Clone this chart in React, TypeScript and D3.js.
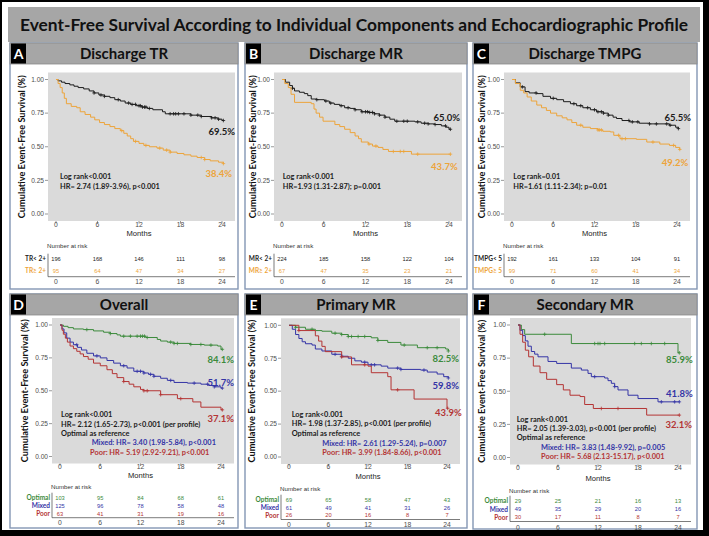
import React from 'react';
import * as d3 from 'd3';

type Pt = [number, number];

const monthTicks = [0, 6, 12, 18, 24];
const survTicks = [0, 0.25, 0.5, 0.75, 1];

// ---------- Panel A : Discharge TR ----------
const trLowSurv: Pt[] = [[0,1],[0.3,0.99],[0.8,0.98],[1.3,0.97],[2,0.96],[2.6,0.95],[3.2,0.94],[4,0.93],[4.8,0.915],[5.5,0.9],[6.2,0.885],[7,0.875],[7.8,0.865],[8.5,0.85],[9.3,0.84],[10,0.825],[10.8,0.815],[11.6,0.805],[12.4,0.795],[13.2,0.785],[14,0.775],[15.4,0.76],[15.8,0.745],[19.5,0.735],[21,0.725],[22.5,0.715],[23.4,0.705],[24,0.695],[24.2,0.695]];
const trLowCensor = [5.5,6.5,7,9,10.5,11,11.5,12,12.2,12.5,12.8,13,13.5,16.5,17,17.3,17.7,18.5,19.5,20.5,21,22.5,23,23.5,24.2];
const trHighSurv: Pt[] = [[0,1],[0.3,0.97],[0.6,0.94],[0.9,0.9],[1.2,0.86],[1.5,0.82],[2.2,0.8],[3,0.79],[3.5,0.76],[4.2,0.74],[5,0.72],[5.6,0.7],[6.3,0.68],[7,0.665],[7.8,0.65],[8.5,0.635],[9.3,0.62],[9.8,0.6],[10.3,0.58],[10.8,0.56],[11.2,0.54],[12,0.525],[12.7,0.51],[13.5,0.5],[14.6,0.49],[15.5,0.475],[16.5,0.46],[17.5,0.45],[18.5,0.44],[19.5,0.43],[20.4,0.42],[21.5,0.405],[22.3,0.395],[23.5,0.385],[24.2,0.375]];
const trHighCensor = [9.5,11.5,13,15,16,16.5,21,21.5,24.2];
const trLowRisk = [196, 168, 146, 111, 98];
const trHighRisk = [95, 64, 47, 34, 27];

// ---------- Panel B : Discharge MR ----------
const mrLowSurv: Pt[] = [[0,1],[0.5,0.98],[1.1,0.955],[1.5,0.935],[1.8,0.915],[2.5,0.905],[3.2,0.895],[3.7,0.88],[4.2,0.855],[5,0.85],[6.1,0.84],[6.8,0.825],[7.5,0.815],[8.3,0.805],[9,0.79],[9.8,0.785],[10.5,0.775],[11.4,0.76],[12.5,0.755],[13.3,0.745],[14,0.735],[14.8,0.72],[15.5,0.705],[16.2,0.69],[19.1,0.685],[20,0.675],[21,0.67],[22,0.665],[22.9,0.655],[23.6,0.645],[24,0.63],[24.2,0.63]];
const mrLowCensor = [1.5,5,6.3,7,8.5,9.5,10.5,11.5,12,12.3,12.6,13,13.3,14,14.8,16.5,17.5,18,19.5,20.5,21,22,23.5,24.2];
const mrHighSurv: Pt[] = [[0,1],[0.4,0.97],[0.9,0.94],[1.3,0.89],[1.8,0.83],[4.2,0.82],[4.6,0.78],[4.9,0.75],[5.4,0.72],[5.9,0.69],[7.6,0.665],[8.3,0.65],[9,0.63],[9.8,0.605],[10.5,0.58],[11,0.56],[11.4,0.535],[12.4,0.52],[13,0.505],[13.8,0.495],[14.5,0.48],[15.3,0.465],[18.6,0.445],[24.2,0.445]];
const mrHighCensor = [12.5,13.5,16,17,17.5,19.5,24.2];
const mrLowRisk = [224, 185, 158, 122, 104];
const mrHighRisk = [67, 47, 35, 23, 21];

// ---------- Panel C : Discharge TMPG ----------
const tmpgLowSurv: Pt[] = [[0,1],[0.5,0.975],[1.2,0.945],[1.9,0.91],[2.5,0.9],[3.6,0.895],[4.5,0.875],[5.6,0.86],[6.5,0.85],[7.5,0.835],[8.5,0.82],[9.4,0.805],[10.3,0.79],[11.4,0.775],[12.3,0.76],[13.3,0.75],[14,0.735],[14.7,0.72],[15.2,0.71],[16,0.695],[17.1,0.685],[18.5,0.675],[20,0.67],[22.9,0.66],[23.8,0.645],[24.2,0.635]];
const tmpgLowCensor = [1.5,3.5,6,9,10,11,12,12.5,13,13.3,14,17,17.5,18.3,20,21,22.5,23,24.2];
const tmpgHighSurv: Pt[] = [[0,1],[0.5,0.97],[1.2,0.92],[1.7,0.9],[2.2,0.87],[2.8,0.84],[3.6,0.81],[4.3,0.79],[5,0.77],[5.6,0.75],[6.5,0.73],[7.3,0.715],[8,0.7],[8.7,0.68],[9.4,0.66],[10.3,0.645],[11.4,0.635],[12.5,0.625],[13.2,0.615],[14.3,0.61],[14.8,0.585],[15.7,0.56],[18.1,0.555],[19.6,0.535],[21.5,0.52],[22.9,0.51],[23.8,0.495],[24.4,0.48]];
const tmpgHighCensor = [10,12.5,12.7,13,15.5,16,16.5,20.5,23.5,24.4];
const tmpgLowRisk = [192, 161, 133, 104, 91];
const tmpgHighRisk = [99, 71, 60, 41, 34];

// ---------- Panel D : Overall ----------
const allOptSurv: Pt[] = [[0,1],[0.5,0.99],[1.2,0.98],[2,0.97],[3.5,0.965],[5,0.955],[6.5,0.945],[7.5,0.935],[8.5,0.925],[9,0.915],[12.8,0.905],[14.5,0.89],[15,0.878],[16,0.87],[17,0.86],[19.5,0.852],[21.5,0.847],[23.5,0.84],[24,0.815],[24.2,0.815]];
const allOptCensor = [4,7.5,9.5,10.5,11.5,12,12.3,12.6,13,16.5,17,17.5,19.5,21,22.5,24.2];
const allMixSurv: Pt[] = [[0,1],[0.3,0.97],[0.6,0.94],[1,0.9],[1.5,0.87],[2,0.85],[2.6,0.83],[3.2,0.81],[4,0.785],[5,0.765],[6,0.75],[7,0.73],[8,0.71],[9,0.69],[10,0.673],[11,0.648],[12.5,0.635],[13.2,0.625],[14,0.61],[15,0.595],[16,0.579],[17,0.563],[19,0.558],[21,0.55],[22.2,0.54],[23,0.53],[24,0.52],[24.2,0.52]];
const allMixCensor = [2.5,5.5,9.5,11.5,12,12.5,13.5,14,16.5,20,22,23,24.2];
const allPoorSurv: Pt[] = [[0,1],[0.3,0.96],[0.5,0.93],[0.8,0.9],[1.1,0.87],[1.5,0.84],[2,0.82],[2.5,0.8],[3,0.78],[3.5,0.76],[4.2,0.74],[5,0.71],[6,0.69],[7,0.66],[7.8,0.63],[8.5,0.6],[9.5,0.57],[10.3,0.55],[11,0.53],[12,0.51],[12.5,0.5],[15,0.47],[17.5,0.44],[19.8,0.415],[21,0.375],[24,0.355],[24.2,0.355]];
const allPoorCensor = [9.5,12.5,13,15,18,24.2];
const allOptRisk = [103, 95, 84, 68, 61];
const allMixRisk = [125, 96, 78, 58, 48];
const allPoorRisk = [63, 41, 31, 19, 16];

// ---------- Panel E : Primary MR ----------
const priOptSurv: Pt[] = [[0,1],[1,0.985],[2.5,0.97],[4,0.96],[5,0.955],[6.5,0.94],[8,0.93],[9,0.915],[12.5,0.905],[13.5,0.885],[15,0.87],[17,0.85],[19.5,0.83],[23.8,0.82],[24.2,0.805]];
const priOptCensor = [1,3.5,7,8,9,9.5,10.5,11.5,13.5,17.5,21,22.5,24.2];
const priMixSurv: Pt[] = [[0,1],[0.5,0.97],[1,0.93],[1.5,0.9],[2,0.875],[2.5,0.86],[3.5,0.85],[4,0.82],[5,0.805],[6.5,0.78],[8,0.765],[9,0.75],[10,0.73],[11,0.72],[12,0.7],[14,0.69],[15,0.675],[17,0.665],[20,0.66],[21,0.645],[22.5,0.63],[23.5,0.61],[24.2,0.6]];
const priMixCensor = [7,8,11.5,12.5,13,16.5,17,20.5,24.2];
const priPoorSurv: Pt[] = [[0,1],[1.5,0.96],[4,0.92],[4.5,0.88],[5,0.84],[5.5,0.8],[8,0.76],[9.5,0.7],[12,0.69],[12.5,0.64],[15,0.61],[15.5,0.51],[19,0.44],[24,0.37],[24.1,0.37]];
const priPoorCensor = [1.5,8,11.5,16.5,24.1];
const priOptRisk = [69, 65, 58, 47, 43];
const priMixRisk = [61, 49, 41, 31, 26];
const priPoorRisk = [26, 20, 16, 8, 7];

// ---------- Panel F : Secondary MR ----------
const secOptSurv: Pt[] = [[0,1],[0.5,0.965],[1,0.93],[8,0.86],[24,0.79],[24.2,0.79]];
const secOptCensor = [4,11.5,12,12.3,13,17.5,18.5,20,22,24.2];
const secMixSurv: Pt[] = [[0,1],[0.3,0.96],[0.7,0.92],[1.1,0.88],[1.5,0.84],[2,0.8],[2.5,0.78],[3,0.76],[4.5,0.725],[5.8,0.71],[8,0.675],[9.5,0.66],[10.5,0.635],[11,0.61],[13,0.6],[13.5,0.58],[14,0.56],[14.5,0.535],[15,0.51],[16.5,0.47],[18,0.445],[21,0.42],[24.2,0.42]];
const secMixCensor = [11.5,14.5,21.5,23.5,24.2];
const secPoorSurv: Pt[] = [[0,1],[0.3,0.93],[0.7,0.87],[1.1,0.81],[1.6,0.76],[2.3,0.69],[3.3,0.64],[4.3,0.59],[5.8,0.55],[6.8,0.51],[7.8,0.47],[9.3,0.46],[10,0.4],[11.3,0.37],[19.3,0.32],[24.2,0.32]];
const secPoorCensor = [12.5,15,24.2];
const secOptRisk = [29, 25, 21, 16, 13];
const secMixRisk = [49, 35, 29, 20, 16];
const secPoorRisk = [30, 17, 11, 8, 7];

// ---------- styling ----------
const C_BLACK = '#1c1c1c';
const C_ORANGE = '#eda43a';
const C_GREEN = '#3b8a3b';
const C_BLUE = '#3434a6';
const C_RED = '#b43434';
const PLOT_BG = '#dadada';
const HEAD_BG = '#a6a6a6';
const BORDER = '#8396b4';
const CAL = 'Lato, "Open Sans", sans-serif';
const ARIAL = '"Liberation Sans", Arial, sans-serif';

type Curve = { surv: Pt[]; censor: number[]; color: string; risk: number[]; label: string };
type Note = { text: string; x: number; y: number; color: string; anchor?: string; size?: number };
type Layout = {
  bx0: number; bx1: number; by0: number; by1: number; hy1: number;
  x0: number; x24: number; y1: number; y0: number; titleX: number;
  narY: number; rows: number[]; axisLine: number; axisLabel: number; monthsY: number; xLabY: number;
};
type PanelCfg = { letter: string; title: string; layout: Layout; curves: Curve[]; notes: Note[] };

function survAt(s: Pt[], t: number) {
  let v = s[0][1];
  for (const p of s) { if (p[0] <= t) v = p[1]; }
  return v;
}

const top = { by0: 43, by1: 289, hy1: 64, y1: 79.5, y0: 214, narY: 245.7, rows: [258.7, 270.7], axisLine: 276.7, axisLabel: 282, monthsY: 233, xLabY: 225 };
const PCT = 9.5;

const panels: PanelCfg[] = [
  {
    letter: 'A', title: 'Discharge TR',
    layout: { ...top, bx0: 10, bx1: 238, x0: 56, x24: 222, titleX: 22 },
    curves: [
      { surv: trLowSurv, censor: trLowCensor, color: C_BLACK, risk: trLowRisk, label: 'TR< 2+' },
      { surv: trHighSurv, censor: trHighCensor, color: C_ORANGE, risk: trHighRisk, label: 'TR\u2265 2+' },
    ],
    notes: [
      { text: 'Log rank<0.001', x: 60, y: 176.7, color: C_BLACK },
      { text: 'HR= 2.74 (1.89-3.96), p<0.001', x: 60, y: 186, color: C_BLACK },
      { text: '69.5%', x: 235, y: 131.7, color: C_BLACK, anchor: 'end', size: PCT },
      { text: '38.4%', x: 232, y: 173.3, color: C_ORANGE, anchor: 'end', size: PCT },
    ],
  },
  {
    letter: 'B', title: 'Discharge MR',
    layout: { ...top, bx0: 245, bx1: 467, x0: 282, x24: 449, titleX: 253 },
    curves: [
      { surv: mrLowSurv, censor: mrLowCensor, color: C_BLACK, risk: mrLowRisk, label: 'MR< 2+' },
      { surv: mrHighSurv, censor: mrHighCensor, color: C_ORANGE, risk: mrHighRisk, label: 'MR\u2265 2+' },
    ],
    notes: [
      { text: 'Log rank<0.001', x: 282.7, y: 176.7, color: C_BLACK },
      { text: 'HR=1.93 (1.31-2.87); p=0.001', x: 282.7, y: 186, color: C_BLACK },
      { text: '65.0%', x: 460, y: 117.3, color: C_BLACK, anchor: 'end', size: PCT },
      { text: '43.7%', x: 457.7, y: 166.7, color: C_ORANGE, anchor: 'end', size: PCT },
    ],
  },
  {
    letter: 'C', title: 'Discharge TMPG',
    layout: { ...top, bx0: 473, bx1: 697, x0: 512, x24: 677, titleX: 482 },
    curves: [
      { surv: tmpgLowSurv, censor: tmpgLowCensor, color: C_BLACK, risk: tmpgLowRisk, label: 'TMPG< 5' },
      { surv: tmpgHighSurv, censor: tmpgHighCensor, color: C_ORANGE, risk: tmpgHighRisk, label: 'TMPG\u2265 5' },
    ],
    notes: [
      { text: 'Log rank=0.01', x: 513.3, y: 176.7, color: C_BLACK },
      { text: 'HR=1.61 (1.11-2.34); p=0.01', x: 513.3, y: 186, color: C_BLACK },
      { text: '65.5%', x: 691, y: 117.3, color: C_BLACK, anchor: 'end', size: PCT },
      { text: '49.2%', x: 688.3, y: 162.3, color: C_ORANGE, anchor: 'end', size: PCT },
    ],
  },
  {
    letter: 'D', title: 'Overall',
    layout: { bx0: 10, bx1: 238, by0: 294, by1: 528, hy1: 315, x0: 60, x24: 221, y1: 325, y0: 456.5, titleX: 25,
      narY: 487, rows: [497.7, 506, 513.7], axisLine: 517.7, axisLabel: 522.7, monthsY: 475.7, xLabY: 466.7 },
    curves: [
      { surv: allOptSurv, censor: allOptCensor, color: C_GREEN, risk: allOptRisk, label: 'Optimal' },
      { surv: allMixSurv, censor: allMixCensor, color: C_BLUE, risk: allMixRisk, label: 'Mixed' },
      { surv: allPoorSurv, censor: allPoorCensor, color: C_RED, risk: allPoorRisk, label: 'Poor' },
    ],
    notes: [
      { text: 'Log rank<0.001', x: 61, y: 414, color: C_BLACK },
      { text: 'HR= 2.12 (1.65-2.73), p<0.001 (per profile)', x: 61, y: 424, color: C_BLACK },
      { text: 'Optimal as reference', x: 61, y: 433.3, color: C_BLACK },
      { text: 'Mixed: HR= 3.40 (1.98-5.84), p<0.001', x: 91.7, y: 442.7, color: C_BLUE },
      { text: 'Poor: HR= 5.19 (2.92-9.21), p<0.001', x: 90, y: 452, color: C_RED },
      { text: '84.1%', x: 234, y: 359.3, color: C_GREEN, anchor: 'end', size: PCT },
      { text: '51.7%', x: 234, y: 382.3, color: C_BLUE, anchor: 'end', size: PCT },
      { text: '37.1%', x: 234, y: 418.3, color: C_RED, anchor: 'end', size: PCT },
    ],
  },
  {
    letter: 'E', title: 'Primary MR',
    layout: { bx0: 245, bx1: 467, by0: 294, by1: 528, hy1: 315, x0: 289, x24: 447, y1: 325.3, y0: 457, titleX: 252,
      narY: 489, rows: [499.7, 507.7, 515.3], axisLine: 519.5, axisLabel: 524.3, monthsY: 476.7, xLabY: 467 },
    curves: [
      { surv: priOptSurv, censor: priOptCensor, color: C_GREEN, risk: priOptRisk, label: 'Optimal' },
      { surv: priMixSurv, censor: priMixCensor, color: C_BLUE, risk: priMixRisk, label: 'Mixed' },
      { surv: priPoorSurv, censor: priPoorCensor, color: C_RED, risk: priPoorRisk, label: 'Poor' },
    ],
    notes: [
      { text: 'Log rank<0.001', x: 291.7, y: 414.3, color: C_BLACK },
      { text: 'HR= 1.98 (1.37-2.85), p<0.001 (per profile)', x: 291.7, y: 423.7, color: C_BLACK },
      { text: 'Optimal as reference', x: 291.7, y: 433.3, color: C_BLACK },
      { text: 'Mixed: HR= 2.61  (1.29-5.24), p=0.007', x: 322.3, y: 443, color: C_BLUE },
      { text: 'Poor: HR= 3.99 (1.84-8.66), p<0.001', x: 322.3, y: 452.3, color: C_RED },
      { text: '82.5%', x: 459, y: 358.3, color: C_GREEN, anchor: 'end', size: PCT },
      { text: '59.8%', x: 459, y: 385.7, color: C_BLUE, anchor: 'end', size: PCT },
      { text: '43.9%', x: 461.7, y: 413, color: C_RED, anchor: 'end', size: PCT },
    ],
  },
  {
    letter: 'F', title: 'Secondary MR',
    layout: { bx0: 473, bx1: 697, by0: 294, by1: 529, hy1: 315, x0: 518, x24: 678, y1: 325, y0: 457.5, titleX: 482,
      narY: 490.7, rows: [500.7, 509.3, 517.3], axisLine: 521.5, axisLabel: 527.3, monthsY: 478, xLabY: 468 },
    curves: [
      { surv: secOptSurv, censor: secOptCensor, color: C_GREEN, risk: secOptRisk, label: 'Optimal' },
      { surv: secMixSurv, censor: secMixCensor, color: C_BLUE, risk: secMixRisk, label: 'Mixed' },
      { surv: secPoorSurv, censor: secPoorCensor, color: C_RED, risk: secPoorRisk, label: 'Poor' },
    ],
    notes: [
      { text: 'Log rank<0.001', x: 516.7, y: 419, color: C_BLACK },
      { text: 'HR= 2.05 (1.39-3.03), p<0.001 (per profile)', x: 516.7, y: 428.3, color: C_BLACK },
      { text: 'Optimal as reference', x: 516.7, y: 437.3, color: C_BLACK },
      { text: 'Mixed: HR= 3.83 (1.48-9.92), p=0.005', x: 541, y: 447.3, color: C_BLUE },
      { text: 'Poor: HR= 5.68 (2.13-15.17), p<0.001', x: 541, y: 456.3, color: C_RED },
      { text: '85.9%', x: 692.7, y: 359.3, color: C_GREEN, anchor: 'end', size: PCT },
      { text: '41.8%', x: 692.7, y: 394, color: C_BLUE, anchor: 'end', size: PCT },
      { text: '32.1%', x: 692, y: 425, color: C_RED, anchor: 'end', size: PCT },
    ],
  },
];

function Panel({ cfg }: { cfg: PanelCfg }) {
  const L = cfg.layout;
  const x = d3.scaleLinear().domain([0, 24]).range([L.x0, L.x24]);
  const y = d3.scaleLinear().domain([0, 1]).range([L.y0, L.y1]);
  const line = d3.line<Pt>().x(d => x(d[0])).y(d => y(d[1])).curve(d3.curveStepAfter);
  const gx0 = L.x0 - 8;
  const gx1 = Math.min(L.x24 + 13, L.bx1 - 3);
  const gy0 = y(1) - 7;
  const gy1 = y(0) + 7;
  const cy = (gy0 + gy1) / 2;
  return (
    <g>
      <rect x={L.bx0} y={L.by0} width={L.bx1 - L.bx0} height={L.by1 - L.by0} fill="#fff" stroke={BORDER} strokeWidth={1.4} />
      <rect x={L.bx0} y={L.by0} width={L.bx1 - L.bx0} height={L.hy1 - L.by0} fill={HEAD_BG} stroke="#8a8a8a" strokeWidth={0.8} />
      <rect x={L.bx0 + 1} y={L.by0 + 0.5} width={15} height={L.hy1 - L.by0 - 1} fill="#000" />
      <text x={L.bx0 + 8.5} y={(L.by0 + L.hy1) / 2 + 5} textAnchor="middle" fill="#fff" fontFamily={CAL} fontWeight={700} fontSize={14}>{cfg.letter}</text>
      <text x={(L.bx0 + L.bx1) / 2} y={(L.by0 + L.hy1) / 2 + 5.2} textAnchor="middle" fill="#111" fontFamily={CAL} fontWeight={700} fontSize={15}>{cfg.title}</text>

      <rect x={gx0} y={gy0} width={gx1 - gx0} height={gy1 - gy0} fill={PLOT_BG} />
      {survTicks.map(t => (
        <g key={'y' + t}>
          <line x1={gx0 - 3} x2={gx0} y1={y(t)} y2={y(t)} stroke="#555" strokeWidth={0.6} />
          <text x={gx0 - 4} y={y(t) + 2.3} textAnchor="end" fontFamily={ARIAL} fontSize={6.6} fill="#4d4d4d">{t.toFixed(2)}</text>
        </g>
      ))}
      {monthTicks.map(t => (
        <g key={'x' + t}>
          <line x1={x(t)} x2={x(t)} y1={gy1} y2={gy1 + 2.5} stroke="#555" strokeWidth={0.6} />
          <text x={x(t)} y={L.xLabY + 2.4} textAnchor="middle" fontFamily={ARIAL} fontSize={6.8} fill="#4d4d4d">{t}</text>
        </g>
      ))}
      <text x={(x(0) + x(24)) / 2} y={L.monthsY + 2.7} textAnchor="middle" fontFamily={ARIAL} fontSize={7.6} fill="#222">Months</text>
      <text transform={`translate(${L.titleX},${cy}) rotate(-90)`} textAnchor="middle" dy={3.2} fontFamily={CAL} fontWeight={700} fontSize={9.2} fill="#111">Cumulative Event-Free Survival (%)</text>

      {cfg.curves.map((c, i) => (
        <g key={'c' + i}>
          <path d={line(c.surv) || ''} fill="none" stroke={c.color} strokeWidth={1} />
          {c.censor.map((t, j) => {
            const px = x(t), py = y(survAt(c.surv, t));
            return <path key={j} d={`M${px - 1.8},${py}H${px + 1.8}M${px},${py - 1.8}V${py + 1.8}`} stroke={c.color} strokeWidth={0.8} />;
          })}
        </g>
      ))}

      {cfg.notes.map((n, i) => (
        <text key={'n' + i} x={n.x} y={n.y + (n.size ? 3.3 : 2.6)} textAnchor={n.anchor || 'start'} fontFamily={CAL} fontWeight={700} fontSize={n.size || 7.4} fill={n.color}>{n.text}</text>
      ))}

      <text x={gx0 - 1} y={L.narY + 2.2} fontFamily={ARIAL} fontSize={6.2} fill="#333">Number at risk</text>
      <line x1={gx0} x2={gx0} y1={L.rows[0] - 5} y2={L.axisLine} stroke="#444" strokeWidth={0.7} />
      <line x1={gx0} x2={gx1} y1={L.axisLine} y2={L.axisLine} stroke="#444" strokeWidth={0.7} />
      {cfg.curves.map((c, i) => (
        <g key={'r' + i}>
          <text x={gx0 - 2} y={L.rows[i] + 2.2} textAnchor="end" fontFamily={CAL} fontWeight={700} fontSize={6.5} fill={c.color}>{c.label}</text>
          {c.risk.map((v, j) => (
            <text key={j} x={x(monthTicks[j])} y={L.rows[i] + 2} textAnchor="middle" fontFamily={ARIAL} fontSize={5.7} fill={c.color}>{v}</text>
          ))}
        </g>
      ))}
      {monthTicks.map(t => (
        <text key={'a' + t} x={x(t)} y={L.axisLabel + 2.4} textAnchor="middle" fontFamily={ARIAL} fontSize={6.8} fill="#4d4d4d">{t}</text>
      ))}
    </g>
  );
}

export default function App() {
  return (
    <svg width={709} height={536} style={{ position: 'absolute', left: 0, top: 0, display: 'block' }}>
      <rect x={0} y={0} width={709} height={536} fill="#000" />
      <rect x={2} y={2} width={701} height={528} fill="#fff" />
      <rect x={8} y={7} width={692} height={35} fill={HEAD_BG} />
      <text x={354} y={31} textAnchor="middle" fontFamily={CAL} fontWeight={700} fontSize={17.5} fill="#111" textLength={668} lengthAdjust="spacingAndGlyphs">Event-Free Survival According to Individual Components and Echocardiographic Profile</text>
      {panels.map(p => <Panel key={p.letter} cfg={p} />)}
    </svg>
  );
}
